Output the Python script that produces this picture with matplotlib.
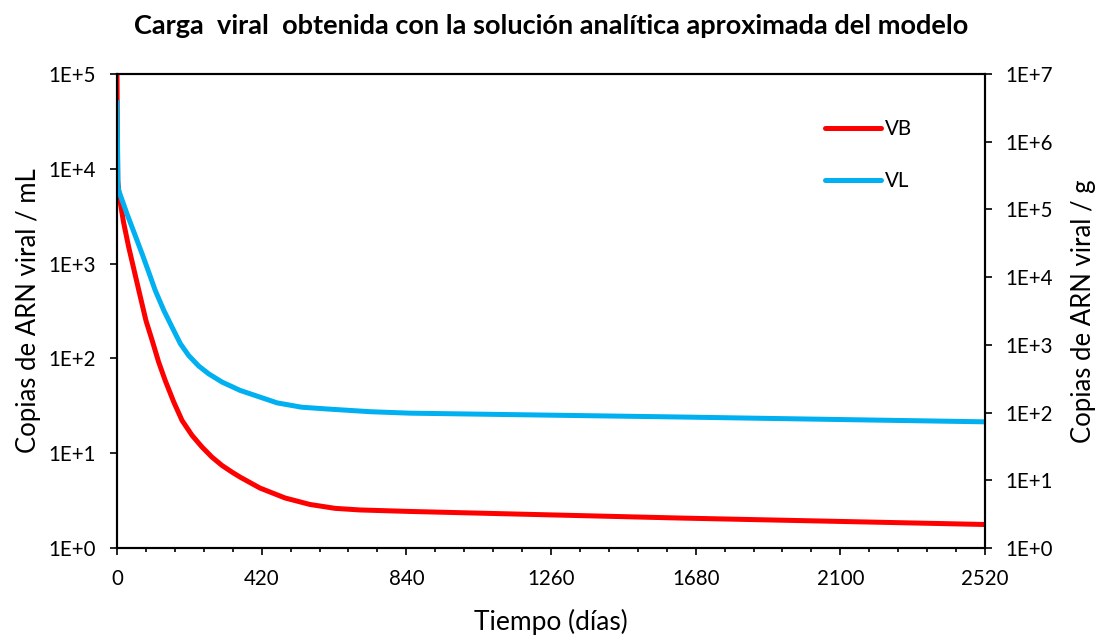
import numpy as np
import matplotlib
matplotlib.use("Agg")
from matplotlib import pyplot as plt
from matplotlib.ticker import FixedLocator, MultipleLocator, FuncFormatter

plt.rcParams['font.family'] = ['Lato', 'DejaVu Sans']

# Serum viral load VB (copies / mL), left axis
t_vb = [0, 2, 7, 19, 34, 51, 68, 84, 102, 121, 140, 165, 189, 218, 247, 276,
        305, 334, 358, 415, 488, 560, 633, 705, 850, 1635, 2520]
vb = [1e5, 7500, 5010, 2730, 1490, 811, 442, 251, 155, 91.3, 58.4, 34.5,
      22.1, 15.4, 11.6, 9.07, 7.42, 6.31, 5.58, 4.29, 3.37, 2.88, 2.62, 2.52,
      2.43, 2.07, 1.77]

# Tissue viral load VL (copies / g), right axis
t_vl = [0, 3, 5, 29, 53, 73, 92, 111, 136, 160, 184, 208, 237, 266, 305, 358,
        465, 536, 610, 735, 850, 1635, 2520]
vl = [4.1e6, 2.2e5, 1.9e5, 8.6e4, 4.1e4, 2.2e4, 1.19e4, 6370, 3220, 1820,
      1040, 697, 488, 374, 282, 212, 139, 120, 113, 103, 98, 86, 73]

x_major = [0, 420, 840, 1260, 1680, 2100, 2520]

RED = '#FF0000'
BLUE = '#00B0F0'


def sci_label(v, pos):
    return f"1E+{int(round(np.log10(v)))}"


fig = plt.figure(figsize=(10.96, 6.35), dpi=100)
ax = fig.add_axes([117 / 1096, 1 - 548 / 635, 868 / 1096, 474 / 635])
ax2 = ax.twinx()

l1, = ax.plot(t_vb, vb, color=RED, lw=3.6, solid_capstyle='butt',
              solid_joinstyle='round', label='VB')
l2, = ax2.plot(t_vl, vl, color=BLUE, lw=3.6, solid_capstyle='butt',
               solid_joinstyle='round', label='VL')

ax.set_yscale('log')
ax2.set_yscale('log')
ax.set_xlim(0, 2520)
ax.set_ylim(1, 1e5)
ax2.set_ylim(1, 1e7)

ax.xaxis.set_major_locator(FixedLocator(x_major))
ax.xaxis.set_minor_locator(MultipleLocator(84))
ax.yaxis.set_major_locator(FixedLocator([10.0 ** k for k in range(6)]))
ax.yaxis.set_minor_locator(FixedLocator([]))
ax2.yaxis.set_major_locator(FixedLocator([10.0 ** k for k in range(8)]))
ax2.yaxis.set_minor_locator(FixedLocator([]))
ax.yaxis.set_major_formatter(FuncFormatter(sci_label))
ax2.yaxis.set_major_formatter(FuncFormatter(sci_label))

for a in (ax, ax2):
    for s in a.spines.values():
        s.set_linewidth(1.5)
        s.set_color('black')
    a.tick_params(which='major', length=5, width=1.2, labelsize=14.8,
                  direction='out')
    a.tick_params(which='minor', length=3, width=1.2, direction='out')
ax.tick_params(axis='y', pad=10)
ax2.tick_params(axis='y', pad=10)
ax.tick_params(axis='x', pad=10)

ax.set_ylabel('Copias de ARN viral / mL', fontsize=18.5)
ax2.set_ylabel('Copias de ARN viral / g', fontsize=18.5)
ax.set_xlabel('Tiempo (días)', fontsize=19)
ax.yaxis.set_label_coords(-0.088, 0.5)
ax2.yaxis.set_label_coords(1.099, 0.5)
ax.xaxis.set_label_coords(0.5, -0.128)

fig.suptitle('Carga  viral  obtenida con la solución analítica aproximada del modelo',
             fontsize=19.5, fontweight='bold', y=1 - 26 / 635, va='center',
             x=551 / 1096)

leg = ax2.legend([l1, l2], ['VB', 'VL'], loc='upper left',
                 bbox_to_anchor=(825 / 1096, 1 - 119 / 635),
                 bbox_transform=fig.transFigure, frameon=False, fontsize=14.8,
                 handlelength=2.7, handletextpad=0.2, labelspacing=1.55,
                 borderpad=0, borderaxespad=0)
for h in leg.legend_handles:
    h.set_solid_capstyle('round')
    h.set_linewidth(3.6)

fig.savefig('out.png', dpi=100)
